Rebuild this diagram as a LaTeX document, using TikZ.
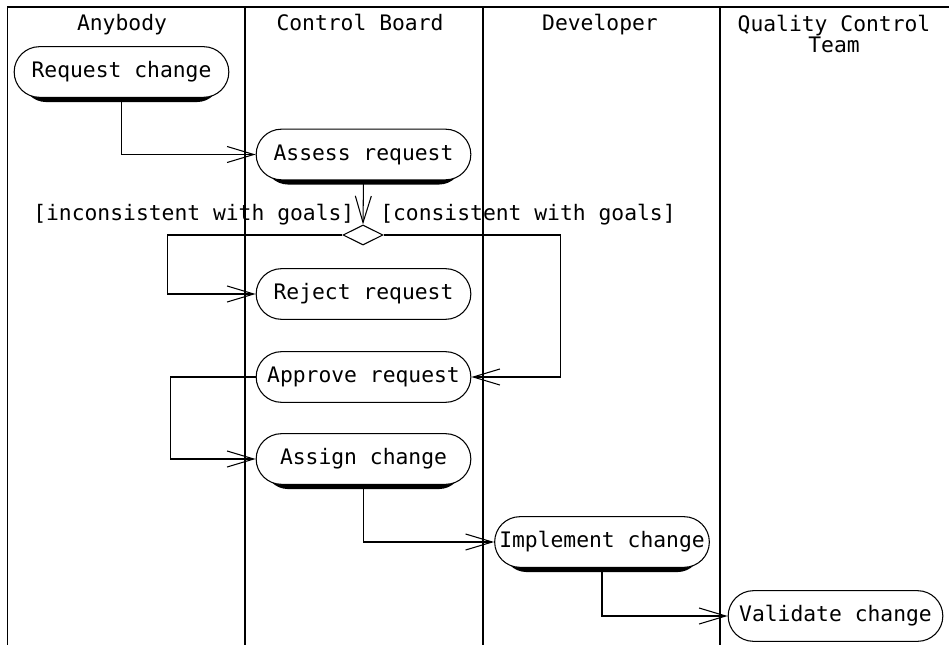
\documentclass[tikz,border=0pt]{standalone}
\usepackage{fontspec}
\setmainfont{DejaVu Sans Mono}
\usetikzlibrary{arrows.meta,shapes.misc,shapes.geometric,shadows}

\begin{document}
\begin{tikzpicture}[x=0.75pt,y=-0.75pt,
  font=\fontsize{16}{14.5}\selectfont,
  activity/.style={draw,line width=0.8pt,rounded rectangle,minimum width=165pt,minimum height=38pt,inner sep=2pt,fill=white},
  shaded/.style={drop shadow={shadow xshift=0pt,shadow yshift=-5.5pt,shadow scale=0.92,opacity=1,fill=black}},
  decision/.style={draw,line width=0.8pt,diamond,minimum width=30pt,minimum height=15pt,inner sep=0pt,fill=white},
  flow/.style={line width=0.8pt,-{Straight Barb[length=20pt,width=12pt]}},
  lane/.style={line width=1.1pt},
  guard/.style={inner sep=0pt,anchor=base west}]
  \useasboundingbox (0,0) rectangle (949,645);

  % swimlanes
  \draw[lane] (949,7) -- (7.5,7) -- (7.5,645);
  \foreach \x in {245,483,720}
    \draw[lane] (\x,7) -- (\x,645);
  \node[anchor=base] (hany) at (122,31) {Anybody};
  \node[anchor=base] (hboard) at (360,31) {Control Board};
  \node[anchor=base] (hdev) at (600,31) {Developer};
  \node[anchor=north,align=center,inner sep=0pt] (hqc) at (834,15) {Quality Control\\Team};

  % activities
  \node[activity,shaded] (request) at (121.5,72) {Request change};
  \node[activity,shaded] (assess) at (363.5,154.5) {Assess request};
  \node[decision] (dec) at (363,235) {};
  \node[activity] (reject) at (363.5,294) {Reject request};
  \node[activity] (approve) at (363.5,377) {Approve request};
  \node[activity,shaded] (assign) at (363.5,459) {Assign change};
  \node[activity,shaded] (implement) at (602,542) {Implement change};
  \node[activity] (validate) at (835.5,616) {Validate change};

  % guards
  \node[guard] (gno) at (33,221) {[inconsistent with goals]};
  \node[guard] (gyes) at (380,221) {[consistent with goals]};

  % flows
  \draw[flow] (request.south) |- (assess.west);
  \draw[flow] (assess.south) -- (dec.north);
  \draw[flow] (dec.west) -- ++(-175,0) |- (reject.west);
  \draw[flow] (dec.east) -- ++(177,0) |- (approve.east);
  \draw[flow] (approve.west) -- ++(-85,0) |- (assign.west);
  \draw[flow] (assign.south) |- (implement.west);
  \draw[flow] (implement.south) |- (validate.west);
\end{tikzpicture}
\end{document}
